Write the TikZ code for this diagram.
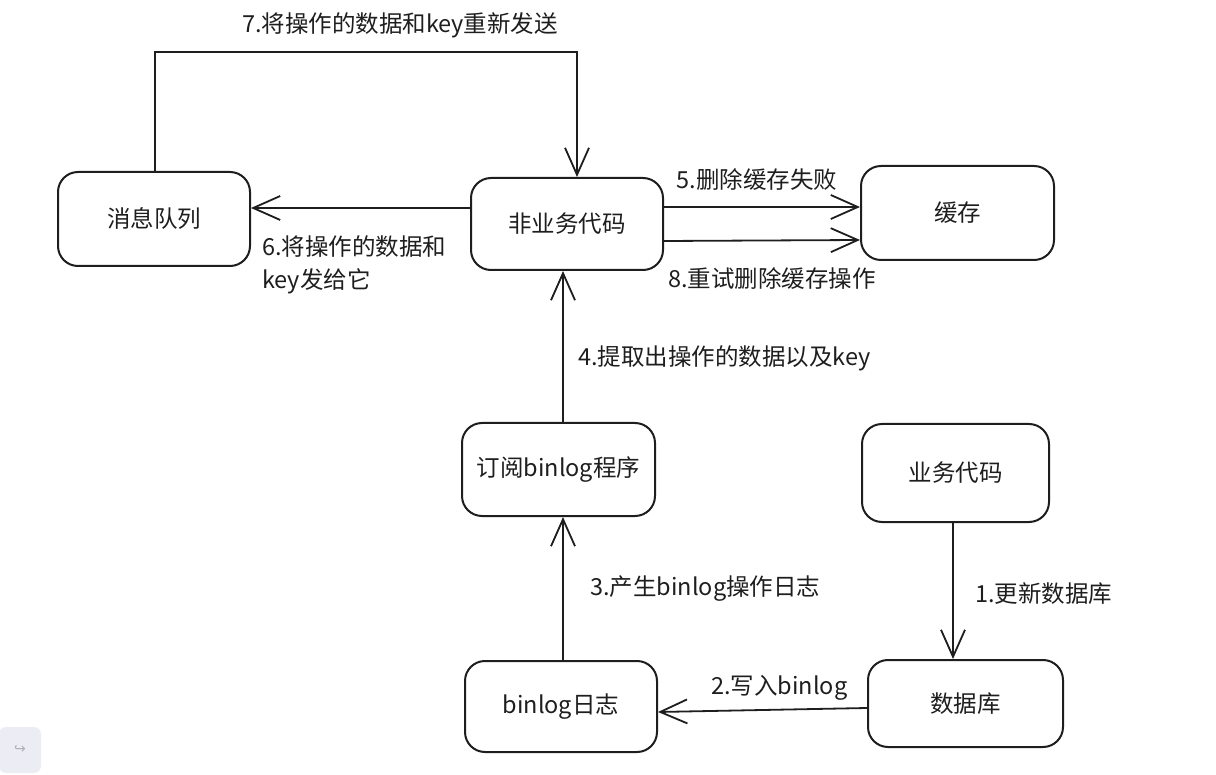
\documentclass[tikz,border=0pt]{standalone}
\usepackage{fontspec}
\setmainfont{Noto Sans CJK SC}
\newfontfamily\symfont{DejaVu Sans}
\usetikzlibrary{arrows.meta}
\definecolor{ink}{HTML}{1E1E1E}
\definecolor{uibg}{HTML}{ECECF4}
\definecolor{uifg}{HTML}{B0B0B8}
\tikzset{
  box/.style={draw=ink, line width=2pt, rounded corners=20pt, inner sep=0pt, font=\fontsize{23.5}{28}\selectfont, text=ink},
  conn/.style={draw=ink, line width=1.8pt, -{Straight Barb[length=27pt,width=24pt,line width=1.8pt]}},
  lbl/.style={font=\fontsize{23.5}{33}\selectfont, text=ink, inner sep=0pt}
}
\begin{document}
\begin{tikzpicture}[x=1pt,y=-1pt]
\useasboundingbox (0,0) rectangle (1216,775);
% nodes
\node[box, minimum width=192pt, minimum height=94pt] (mq) at (154,219) {消息队列};
\node[box, minimum width=192pt, minimum height=92pt] (nb) at (567,224) {非业务代码};
\node[box, minimum width=193pt, minimum height=94pt] (cache) at (957.5,213) {缓存};
\node[box, minimum width=193pt, minimum height=93pt] (sub) at (558.5,469.5) {订阅binlog程序};
\node[box, minimum width=187pt, minimum height=98pt] (biz) at (955.5,473) {业务代码};
\node[box, minimum width=192pt, minimum height=91pt] (blog) at (561,706.5) {binlog日志};
\node[box, minimum width=195pt, minimum height=87pt] (db) at (965.5,703.5) {数据库};
% connectors
\coordinate (c7a) at (155,52);
\draw[conn] (mq.north -| 155,0) -- (c7a) -- (c7a -| 577,0) -- (nb.north -| 577,0);
\node[lbl] (l7) at (400,25) {7.将操作的数据和key重新发送};

\draw[conn] (nb.west |- 0,208) -- (mq.east |- 0,208);
\node[lbl, align=left, anchor=north west] (l6) at (262,235) {6.将操作的数据和\\key发给它};

\draw[conn] (nb.east |- 0,207) -- (cache.west |- 0,207);
\node[lbl] (l5) at (757,180) {5.删除缓存失败};

\draw[conn] (nb.east |- 0,241) -- (cache.west |- 0,240);
\node[lbl] (l8) at (772,279) {8.重试删除缓存操作};

\draw[conn] (sub.north -| 563,0) -- (nb.south -| 563,0);
\node[lbl, anchor=west] (l4) at (578,358) {4.提取出操作的数据以及key};

\draw[conn] (blog.north -| 563,0) -- (sub.south -| 563,0);
\node[lbl, anchor=west] (l3) at (590,589) {3.产生binlog操作日志};

\draw[conn] (biz.south -| 953,0) -- (db.north -| 953,0);
\node[lbl, anchor=west] (l1) at (975,594) {1.更新数据库};

\draw[conn] (db.west |- 0,708) -- (blog.east |- 0,712);
\node[lbl, anchor=west] (l2) at (711,688) {2.写入binlog};

% UI corner widget
\node[fill=uibg, rounded corners=7pt, minimum width=42pt, minimum height=46pt, inner sep=0pt] (ui) at (20,750) {};
\node[text=uifg, font=\symfont\fontsize{14}{14}\selectfont] (uiicon) at (ui.center) {↪};
\end{tikzpicture}
\end{document}
